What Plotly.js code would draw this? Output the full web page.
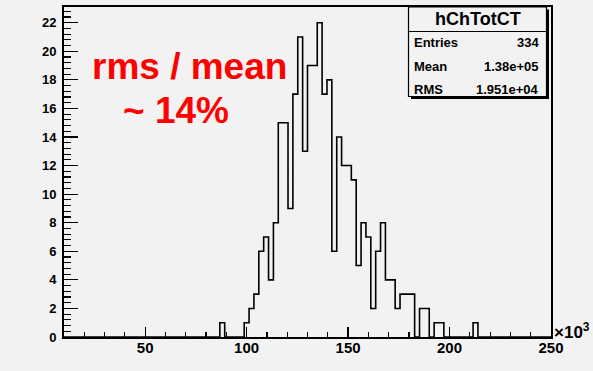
<!DOCTYPE html>
<html>
<head>
<meta charset="utf-8">
<script src="https://cdn.plot.ly/plotly-3.0.1.min.js"></script>
<style>html,body{margin:0;padding:0;background:#f2f2f2;}#chart{width:593px;height:371px;}</style>
</head>
<body>
<div id="chart"></div>
<script>
// ---- data (x in units of 10^3) ----
const histName = "hChTotCT";
const binLow = 10;
const binWidth = 2.4;
const counts = [
  0,0,0,0,0,0,0,0,0,0,
  0,0,0,0,0,0,0,0,0,0,
  0,0,0,0,0,0,0,0,0,0,
  0,0,1,0,0,0,0,1,2,3,
  6,7,4,8,15,15,9,17,21,13,
  19,19,22,17,18,6,14,12,12,11,
  5,8,7,2,6,8,4,4,2,3,
  3,3,0,2,2,0,1,1,0,0,
  0,0,0,0,1,0,0,0,0,0,
  0,0,0,0,0,0,0,0,0,0
];
const statLabels = ["Entries", "Mean", "RMS"];
const statValues = ["334", "1.38e+05", "1.951e+04"];
const noteLine1 = "rms / mean";
const noteLine2 = "~ 14%";
const xTickVals = [50, 100, 150, 200, 250];
const yTickVals = [0, 2, 4, 6, 8, 10, 12, 14, 16, 18, 20, 22];

// ---- step outline ----
const xs = [], ys = [];
for (let k = 0; k < counts.length; k++) {
  xs.push(binLow + k * binWidth);
  ys.push(counts[k]);
}
xs.push(binLow + counts.length * binWidth);
ys.push(counts[counts.length - 1]);

const W = 593, H = 371;
const M = {l: 64, r: 42, t: 7, b: 34};
const PW = W - M.l - M.r, PH = H - M.t - M.b;
const px = v => (v - M.l) / PW;
const py = v => (H - M.b - v) / PH;

const FONT = "Liberation Sans, Arial, sans-serif";
const boxL = 408.5, boxR = 546.5, boxT = 7, boxB = 96.5;

const shapes = [
  {type:'rect', xref:'paper', yref:'paper', x0:px(boxL+2.5), x1:px(boxR+2.5), y0:py(boxB+2.5), y1:py(boxT+2.5),
   fillcolor:'#000', line:{width:0}, layer:'above'},
  {type:'rect', xref:'paper', yref:'paper', x0:px(boxL), x1:px(boxR), y0:py(boxB), y1:py(boxT),
   fillcolor:'#f2f2f2', line:{color:'#000', width:1.2}, layer:'above'},
  {type:'line', xref:'paper', yref:'paper', x0:px(boxL), x1:px(boxR), y0:py(31.5), y1:py(31.5),
   line:{color:'#000', width:1.2}, layer:'above'}
];

const annotations = [
  {xref:'paper', yref:'paper', x:px((boxL+boxR)/2), y:py(19), xanchor:'center', yanchor:'middle',
   text:histName, showarrow:false, font:{family:FONT, size:18, color:'#000', weight:'bold'}},
  {xref:'paper', yref:'paper', x:1, y:0, xanchor:'left', yanchor:'bottom', xshift:1, yshift:-7,
   text:'×10<sup>3</sup>', showarrow:false, font:{family:FONT, size:17, color:'#000', weight:'bold'}},
  {xref:'paper', yref:'paper', x:px(90), y:py(67), xanchor:'left', yanchor:'middle',
   text:noteLine1, showarrow:false, font:{family:FONT, size:37, color:'#ff0000', weight:'bold'}},
  {xref:'paper', yref:'paper', x:px(121), y:py(110), xanchor:'left', yanchor:'middle',
   text:noteLine2, showarrow:false, font:{family:FONT, size:37, color:'#ff0000', weight:'bold'}}
];
const rowY = [42.5, 66, 89];
for (let i = 0; i < statLabels.length; i++) {
  annotations.push({xref:'paper', yref:'paper', x:px(412), y:py(rowY[i]), xanchor:'left', yanchor:'middle',
    text:statLabels[i], showarrow:false, font:{family:FONT, size:13, color:'#000', weight:'bold'}});
  annotations.push({xref:'paper', yref:'paper', x:px(541), y:py(rowY[i]), xanchor:'right', yanchor:'middle',
    text:statValues[i], showarrow:false, font:{family:FONT, size:13, color:'#000', weight:'bold'}});
}

const trace = {
  type:'scatter', mode:'lines', x:xs, y:ys,
  line:{shape:'hv', color:'#000', width:1.6},
  hoverinfo:'skip', showlegend:false
};

const layout = {
  width:W, height:H,
  margin:M,
  paper_bgcolor:'#f2f2f2', plot_bgcolor:'#f2f2f2',
  showlegend:false,
  xaxis:{
    range:[binLow, binLow + counts.length * binWidth], autorange:false,
    tickmode:'array', tickvals:xTickVals,
    ticks:'inside', ticklen:10, tickwidth:1.2, tickcolor:'#000',
    minor:{ticks:'inside', dtick:10, tick0:0, ticklen:5, tickwidth:1.2, tickcolor:'#000'},
    showgrid:false, zeroline:false,
    showline:true, linecolor:'#000', linewidth:2, mirror:true,
    tickfont:{family:FONT, size:15, color:'#000', weight:'bold'},
    ticklabelstandoff:-4, automargin:false
  },
  yaxis:{
    range:[0, 23.1], autorange:false,
    tickmode:'array', tickvals:yTickVals,
    ticks:'inside', ticklen:14, tickwidth:1.2, tickcolor:'#000',
    minor:{ticks:'inside', dtick:0.4, tick0:0, ticklen:7, tickwidth:1.2, tickcolor:'#000'},
    showgrid:false, zeroline:false,
    showline:true, linecolor:'#000', linewidth:2, mirror:true,
    tickfont:{family:FONT, size:13, color:'#000', weight:'bold'},
    ticklabelstandoff:3, automargin:false
  },
  shapes:shapes,
  annotations:annotations
};

Plotly.newPlot('chart', [trace], layout, {staticPlot:true, displayModeBar:false});
</script>
</body>
</html>
